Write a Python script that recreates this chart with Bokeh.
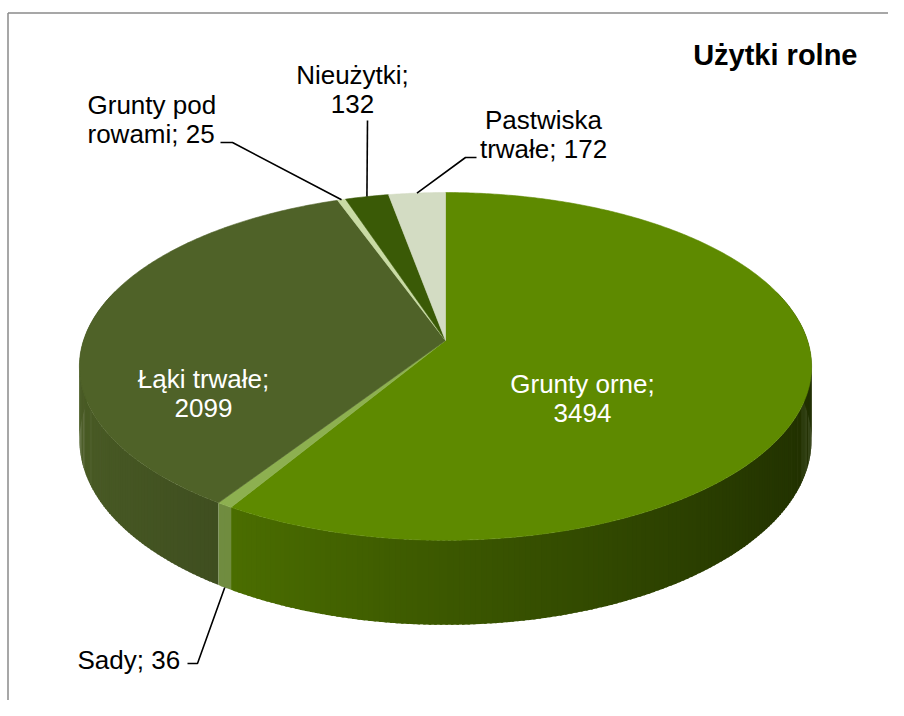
import numpy as np
from bokeh.plotting import figure
from bokeh.models import Range1d
from bokeh.core.properties import value
from bokeh.embed import file_html
from bokeh.resources import INLINE

# ---------------- data ----------------
title = "Użytki rolne"
categories = ["Grunty orne", "Sady", "Łąki trwałe", "Grunty pod rowami", "Nieużytki", "Pastwiska trwałe"]
values = [3494, 36, 2099, 25, 132, 172]
colors = ["#5e8a00", "#8db050", "#4f6228", "#c9dba4", "#3a5a06", "#d3dcc3"]
first_line_words = [2, 0, 2, 2, 1, 1]   # label wrapping (0 = single line)

# ---------------- layout ----------------
W, H = 888, 700
CX, CY = 445, 340          # apex of the pie (screen px)
RX, RY = 362, 170          # radii of top face
PERSP = 0.149              # perspective factor
DEPTH = 72                 # wall height
FONT = "Liberation Sans"
LINE_H = 29
TY = -9                    # text baseline correction

label_layout = {
    "Grunty orne":       dict(x=582, y=392, align="center", color="white", leader=None, frm="top"),
    "Sady":              dict(x=77,  y=668, align="left",   color="black", leader=[(197, 663), (187, 663)], frm="bottom"),
    "Łąki trwałe":       dict(x=203, y=387, align="center", color="white", leader=None, frm="top"),
    "Grunty pod rowami": dict(x=87,  y=113, align="left",   color="black", leader=[(232, 142), (220, 142)], frm="top"),
    "Nieużytki":         dict(x=352, y=83,  align="center", color="black", leader=[(367, 120)], frm="top"),
    "Pastwiska trwałe":  dict(x=543, y=128, align="center", color="black", leader=[(465, 157), (476, 157)], frm="top"),
}


def proj(theta_deg):
    t = np.radians(theta_deg)
    u = np.sin(t)
    v = -np.cos(t)
    w = 1.0 / (1.0 - PERSP * v)
    return CX + RX * u * w, CY + RY * v * w, w, u, v


def shade(hexcol, f):
    h = hexcol.lstrip("#")
    r, g, b = (int(h[i:i + 2], 16) for i in (0, 2, 4))
    r, g, b = (int(max(0, min(255, c * f))) for c in (r, g, b))
    return "#%02x%02x%02x" % (r, g, b)


p = figure(width=W, height=H, x_range=Range1d(0, W), y_range=Range1d(H, 0),
           output_backend="svg", toolbar_location=None, min_border=0)
p.axis.visible = False
p.grid.visible = False
p.outline_line_color = None
p.background_fill_color = "white"
p.border_fill_color = "white"

# chart-area border (left and top visible)
p.line([7.5, 7.5], [H, 12.5], line_color="#8a8a8a", line_width=1.5)
p.line([7.5, W], [12.5, 12.5], line_color="#8a8a8a", line_width=1.5)

total = float(sum(values))
angles = np.cumsum([0] + [v / total * 360.0 for v in values])

# ---- walls ----
quads = []
step = 0.75
for i, col in enumerate(colors):
    a0, a1 = angles[i], angles[i + 1]
    n = max(1, int(np.ceil((a1 - a0) / step)))
    ts = np.linspace(a0, a1, n + 1)
    for k in range(n):
        tb = ts[k + 1] + (0.35 if k < n - 1 else 0.0)
        xa, ya, wa, ua, va = proj(ts[k])
        xb, yb, wb, ub, vb = proj(tb)
        vm = (va + vb) / 2
        if vm < -0.3:
            continue
        um = (ua + ub) / 2
        f = float(np.clip(0.64 - 0.30 * um, 0.3, 1.0))
        c = shade(col, f)
        quads.append((vm, [xa, xb, xb, xa], [ya, yb, yb + DEPTH * wb, ya + DEPTH * wa], c))
quads.sort(key=lambda q: q[0])
p.patches([q[1] for q in quads], [q[2] for q in quads], fill_color=[q[3] for q in quads],
          line_color=None)

# ---- top faces ----
xs, ys = [], []
for i in range(len(values)):
    a0, a1 = angles[i], angles[i + 1]
    n = max(2, int(np.ceil((a1 - a0) / 0.5)))
    ts = np.linspace(a0, a1, n + 1)
    px, py, _, _, _ = proj(ts)
    xs.append([CX] + list(px))
    ys.append([CY] + list(py))
p.patches(xs, ys, fill_color=colors, line_color=colors, line_width=0.6)

# ---- labels & leaders ----
for i, (cat, val) in enumerate(zip(categories, values)):
    lay = label_layout[cat]
    words = f"{cat}; {val}".split(" ")
    k = first_line_words[i]
    lines = [" ".join(words)] if k == 0 else [" ".join(words[:k]), " ".join(words[k:])]
    for j, ln in enumerate(lines):
        p.text(x=[lay["x"]], y=[lay["y"] + TY + j * LINE_H], text=[ln], text_align=lay["align"],
               text_baseline="alphabetic", text_font=value(FONT), text_font_size="26px",
               text_color=lay["color"])
    if lay["leader"]:
        mid = (angles[i] + angles[i + 1]) / 2
        sx, sy, sw, _, _ = proj(mid)
        if lay["frm"] == "bottom":
            sy = sy + DEPTH * sw
        lx = [sx] + [pt[0] for pt in lay["leader"]]
        ly = [sy] + [pt[1] for pt in lay["leader"]]
        p.line(lx, ly, line_color="black", line_width=1.6)

# ---- title ----
p.text(x=[857], y=[63 + TY], text=[title], text_align="right", text_baseline="alphabetic",
       text_font=value(FONT), text_font_style="bold", text_font_size="29px", text_color="black")

open("out.html", "w").write(file_html(p, INLINE))
